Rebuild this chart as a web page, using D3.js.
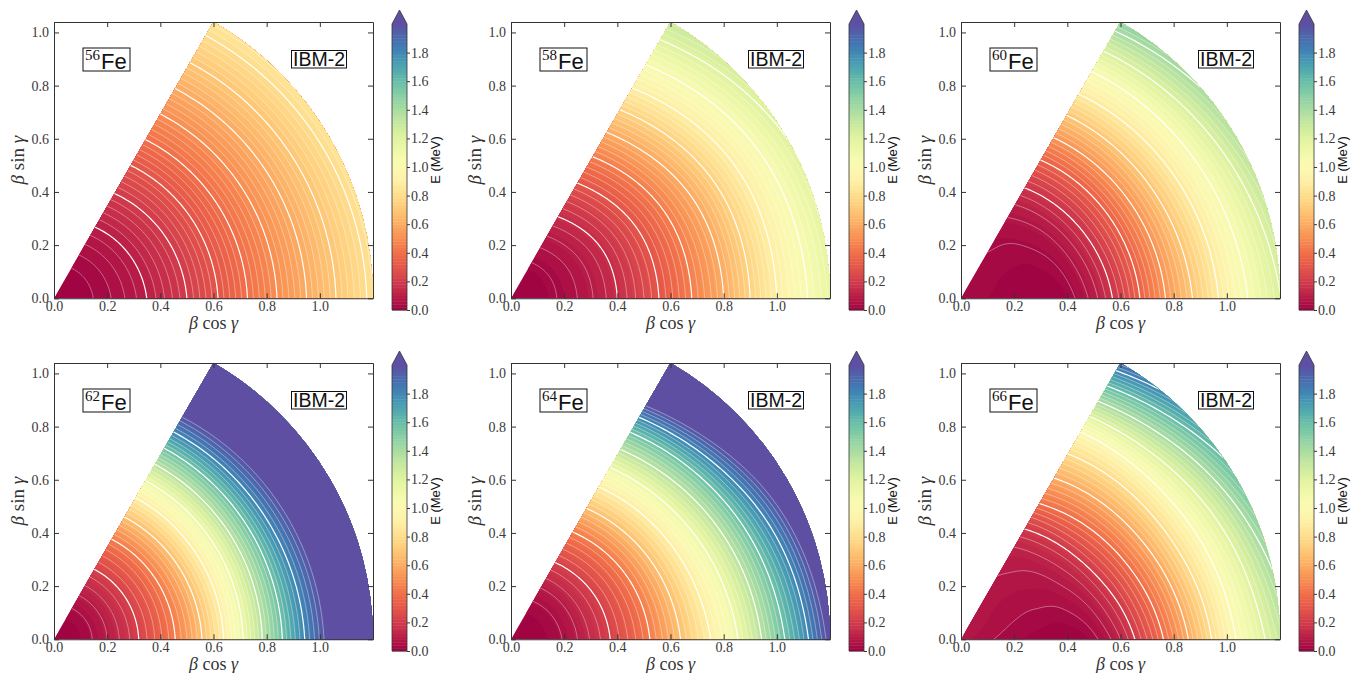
<!DOCTYPE html>
<html>
<head>
<meta charset="utf-8">
<script src="https://cdn.jsdelivr.net/npm/d3@7"></script>
<style>
  body { margin: 0; background: #fff; }
  svg { display: block; }
  .tick text { font-family: "Liberation Serif", serif; font-size: 14px; fill: #3a3a3a; }
</style>
</head>
<body>
<svg id="chart" width="1351" height="673"></svg>
<script>
// Deformation grid: β nodes and γ nodes (degrees) on which the surfaces are tabulated
const betaValues = [0, 0.1, 0.2, 0.3, 0.4, 0.5, 0.6, 0.7, 0.8, 0.9, 1.0, 1.1, 1.2];
const gammaValues = [0, 30, 60];

// IBM-2 potential energy surfaces E(β, γ) in MeV; rows are γ = 0°, 30°, 60°
const energyFe56 = [
  [0, 0.010, 0.035, 0.075, 0.130, 0.200, 0.285, 0.375, 0.465, 0.555, 0.645, 0.735, 0.820],
  [0, 0.011, 0.040, 0.085, 0.145, 0.217, 0.302, 0.392, 0.482, 0.572, 0.662, 0.750, 0.835],
  [0, 0.012, 0.045, 0.095, 0.160, 0.235, 0.320, 0.410, 0.500, 0.590, 0.680, 0.765, 0.850]
];
const energyFe58 = [
  [0, 0.010, 0.040, 0.085, 0.150, 0.240, 0.350, 0.475, 0.600, 0.750, 0.900, 1.030, 1.150],
  [0, 0.011, 0.043, 0.092, 0.160, 0.255, 0.370, 0.500, 0.630, 0.780, 0.930, 1.070, 1.200],
  [0, 0.012, 0.050, 0.110, 0.190, 0.300, 0.430, 0.570, 0.720, 0.880, 1.030, 1.170, 1.300]
];
const energyFe60 = [
  [0.030, 0.020, 0.008, 0.000, 0.020, 0.090, 0.220, 0.400, 0.580, 0.750, 0.930, 1.080, 1.220],
  [0.030, 0.025, 0.020, 0.025, 0.060, 0.150, 0.290, 0.470, 0.650, 0.830, 1.010, 1.180, 1.350],
  [0.030, 0.030, 0.035, 0.050, 0.100, 0.200, 0.350, 0.530, 0.710, 0.900, 1.080, 1.280, 1.480]
];
const energyFe62 = [
  [0, 0.020, 0.090, 0.200, 0.350, 0.540, 0.790, 1.090, 1.400, 1.690, 1.940, 2.200, 2.500],
  [0, 0.022, 0.095, 0.210, 0.365, 0.570, 0.830, 1.125, 1.440, 1.750, 2.010, 2.300, 2.600],
  [0, 0.025, 0.100, 0.220, 0.380, 0.600, 0.860, 1.160, 1.480, 1.800, 2.080, 2.400, 2.700]
];
const energyFe64 = [
  [0, 0.010, 0.050, 0.140, 0.260, 0.410, 0.600, 0.800, 1.000, 1.240, 1.500, 1.750, 2.020],
  [0, 0.012, 0.060, 0.160, 0.290, 0.460, 0.670, 0.900, 1.140, 1.400, 1.680, 1.950, 2.250],
  [0, 0.015, 0.070, 0.180, 0.330, 0.520, 0.750, 1.000, 1.280, 1.580, 1.930, 2.300, 2.650]
];
const energyFe66 = [
  [0.070, 0.045, 0.025, 0.010, 0.000, 0.030, 0.120, 0.280, 0.480, 0.700, 0.930, 1.120, 1.300],
  [0.070, 0.060, 0.050, 0.050, 0.070, 0.140, 0.280, 0.460, 0.660, 0.880, 1.100, 1.320, 1.550],
  [0.070, 0.070, 0.072, 0.085, 0.120, 0.230, 0.420, 0.600, 0.790, 1.000, 1.300, 1.600, 1.900]
];

const massNumbers = ["56", "58", "60", "62", "64", "66"];
const surfaces = [energyFe56, energyFe58, energyFe60, energyFe62, energyFe64, energyFe66];
const modelLabel = "IBM-2";

// Axis and colour-bar ticks
const xTicks = [0.0, 0.2, 0.4, 0.6, 0.8, 1.0];
const yTicks = [0.0, 0.2, 0.4, 0.6, 0.8, 1.0];
const colorTicks = [0.0, 0.2, 0.4, 0.6, 0.8, 1.0, 1.2, 1.4, 1.6, 1.8];
const energyMax = 2.0;      // top of the colour scale (extended beyond)
const fillStep = 0.02;      // filled-contour spacing in MeV

// ---------------------------------------------------------------------------
const svg = d3.select("#chart");
const color = t => d3.interpolateSpectral(Math.max(0, Math.min(1, t / energyMax)));
const overColor = d3.interpolateSpectral(1);
const fmt = d3.format(".1f");

// Catmull-Rom resampling through tabulated nodes
function cubic(xs, ys, xv) {
  const n = xs.length;
  let k = 0;
  while (k < n - 2 && xv > xs[k + 1]) k++;
  const t = (xv - xs[k]) / (xs[k + 1] - xs[k]);
  const p1 = ys[k], p2 = ys[k + 1];
  const p0 = k > 0 ? ys[k - 1] : 2 * p1 - p2;
  const p3 = k + 2 < n ? ys[k + 2] : 2 * p2 - p1;
  const t2 = t * t, t3 = t2 * t;
  return 0.5 * (2 * p1 + (-p0 + p2) * t + (2 * p0 - 5 * p1 + 4 * p2 - p3) * t2 + (-p0 + 3 * p1 - 3 * p2 + p3) * t3);
}

// Fine polar sampling grid (extends slightly past the wedge so the clip hides grid edges)
const db = 0.005, nb = 252;          // β from 0 to 1.255
const g0 = -3, dg = 1, ng = 67;      // γ from -3° to 63°

function sampleSurface(table) {
  const vals = new Float64Array(nb * ng);
  for (let j = 0; j < ng; j++) {
    const gm = Math.max(0, Math.min(60, g0 + j * dg));
    const col = betaValues.map((_, k) => cubic(gammaValues, table.map(r => r[k]), gm));
    for (let i = 0; i < nb; i++) {
      const b = Math.min(1.2, i * db);
      vals[j * nb + i] = cubic(betaValues, col, b);
    }
  }
  return vals;
}

const W = 319, H = W * Math.sin(Math.PI / 3);
const colLeft = [54, 511, 961];
const rowTop = [22, 363];

const contourGen = d3.contours().size([nb, ng]).smooth(true);
const fillLevels = d3.range(0, Math.round(energyMax / fillStep)).map(k => +(k * fillStep).toFixed(3));

surfaces.forEach((table, idx) => {
  const left = colLeft[idx % 3], top = rowTop[Math.floor(idx / 3)];
  const g = svg.append("g").attr("transform", `translate(${left},${top})`);

  const x = d3.scaleLinear([0, 1.2], [0, W]);
  const y = d3.scaleLinear([0, 1.2 * Math.sin(Math.PI / 3)], [H, 0]);

  const proj = d3.geoTransform({
    point(u, v) {
      const b = (u - 0.5) * db;
      const gm = (g0 + (v - 0.5) * dg) * Math.PI / 180;
      this.stream.point(x(b * Math.cos(gm)), y(b * Math.sin(gm)));
    }
  });
  const path = d3.geoPath(proj);

  // wedge 0° ≤ γ ≤ 60°, β ≤ 1.2
  const clipId = `wedge-${idx}`;
  g.append("clipPath").attr("id", clipId)
    .append("path")
    .attr("transform", `translate(${x(0)},${y(0)})`)
    .attr("d", d3.arc()({ innerRadius: 0, outerRadius: x(1.2) - x(0), startAngle: Math.PI / 6, endAngle: Math.PI / 2 }));

  const vals = sampleSurface(table);
  const surf = g.append("g").attr("clip-path", `url(#${clipId})`);

  // filled bands, stacked from the lowest level upward
  surf.append("path")
    .attr("d", path(contourGen.contour(vals, -10)))
    .attr("fill", color(fillStep / 2));
  fillLevels.slice(1).forEach(t => {
    surf.append("path")
      .attr("d", path(contourGen.contour(vals, t)))
      .attr("fill", color(t + fillStep / 2));
  });
  surf.append("path")
    .attr("d", path(contourGen.contour(vals, energyMax)))
    .attr("fill", overColor);

  // contour lines: spacing follows the energy range shown in the panel
  const peak = Math.min(energyMax, d3.max(table.flat()));
  const lineStep = Math.max(0.005, Math.round(peak / 45 / 0.005) * 0.005);
  const lineLevels = d3.range(1, Math.floor(peak / lineStep + 1e-6) + 1).map(k => +(k * lineStep).toFixed(4));
  lineLevels.forEach((t, k) => {
    const major = (k + 1) % 5 === 0;
    surf.append("path")
      .attr("d", path(contourGen.contour(vals, t)))
      .attr("fill", "none")
      .attr("stroke", "#fff")
      .attr("stroke-width", major ? 1.2 : 0.7)
      .attr("stroke-opacity", major ? 1 : 0.55);
  });

  // axes with inward ticks on all four sides
  const axisStyle = sel => {
    sel.selectAll("path.domain").attr("stroke", "#333").attr("stroke-width", 1);
    sel.selectAll(".tick line").attr("stroke", "#333");
  };
  g.append("g").attr("transform", `translate(0,${H})`)
    .call(d3.axisBottom(x).tickValues(xTicks).tickSize(-5).tickSizeOuter(0).tickPadding(3).tickFormat(fmt))
    .call(axisStyle);
  g.append("g")
    .call(d3.axisLeft(y).tickValues(yTicks).tickSize(-5).tickSizeOuter(0).tickPadding(5).tickFormat(fmt))
    .call(axisStyle);
  g.append("g")
    .call(d3.axisTop(x).tickValues(xTicks).tickSize(-5).tickSizeOuter(0).tickFormat(""))
    .call(axisStyle);
  g.append("g").attr("transform", `translate(${W},0)`)
    .call(d3.axisRight(y).tickValues(yTicks).tickSize(-5).tickSizeOuter(0).tickFormat(""))
    .call(axisStyle);
  g.selectAll(".tick text").attr("fill", "#3a3a3a");

  // axis titles
  const serif = "'Liberation Serif', serif";
  const xl = g.append("text").attr("x", W / 2).attr("y", H + 31)
    .attr("text-anchor", "middle").attr("font-family", serif).attr("font-size", 18).attr("fill", "#333");
  xl.append("tspan").attr("font-style", "italic").text("β");
  xl.append("tspan").text(" cos ");
  xl.append("tspan").attr("font-style", "italic").text("γ");
  const yl = g.append("text").attr("transform", `translate(-30,${H / 2}) rotate(-90)`)
    .attr("text-anchor", "middle").attr("font-family", serif).attr("font-size", 19).attr("fill", "#333");
  yl.append("tspan").attr("font-style", "italic").text("β");
  yl.append("tspan").text(" sin ");
  yl.append("tspan").attr("font-style", "italic").text("γ");

  // nucleus label box
  g.append("rect").attr("x", 29).attr("y", 26).attr("width", 47).attr("height", 23)
    .attr("fill", "#fff").attr("stroke", "#111").attr("stroke-width", 1);
  const nl = g.append("text").attr("x", 31).attr("y", 47).attr("fill", "#111");
  nl.append("tspan").attr("font-family", serif).attr("font-size", 15).attr("dy", -9).text(massNumbers[idx]);
  nl.append("tspan").attr("font-family", "'Liberation Sans', Arial, sans-serif").attr("font-size", 22)
    .attr("dy", 9).attr("dx", 1).text("Fe");

  // model label box
  g.append("rect").attr("x", 237.5).attr("y", 28.5).attr("width", 55).attr("height", 17.5)
    .attr("fill", "#fff").attr("stroke", "#111").attr("stroke-width", 1);
  g.append("text").attr("x", 265).attr("y", 44.2).attr("text-anchor", "middle")
    .attr("font-family", "'Liberation Sans', Arial, sans-serif").attr("font-size", 19.5).attr("fill", "#111")
    .text(modelLabel);

  // colour bar with extension triangle
  const cbL = 338, cbW = 15, cbR = cbL + cbW;
  const cbScale = d3.scaleLinear([0, energyMax], [288, 2]);
  const cb = g.append("g");
  cb.selectAll("rect").data(fillLevels).join("rect")
    .attr("x", cbL).attr("width", cbW)
    .attr("y", d => cbScale(d + fillStep))
    .attr("height", d => cbScale(d) - cbScale(d + fillStep) + 0.4)
    .attr("fill", d => color(d + fillStep / 2));
  cb.append("path")
    .attr("d", `M${cbL},${cbScale(energyMax)}L${cbR},${cbScale(energyMax)}L${cbL + cbW / 2},${cbScale(energyMax) - 14}Z`)
    .attr("fill", overColor);
  cb.append("path")
    .attr("d", `M${cbL},${cbScale(0)}V${cbScale(energyMax)}L${cbL + cbW / 2},${cbScale(energyMax) - 14}L${cbR},${cbScale(energyMax)}V${cbScale(0)}Z`)
    .attr("fill", "none").attr("stroke", "#333").attr("stroke-width", 0.8);
  const cbAxis = g.append("g").attr("transform", `translate(${cbR},0)`)
    .call(d3.axisRight(cbScale).tickValues(colorTicks).tickSize(3).tickSizeOuter(0).tickPadding(1).tickFormat(fmt));
  cbAxis.select("path.domain").remove();
  cbAxis.selectAll(".tick line").attr("stroke", "#333");
  cbAxis.selectAll(".tick text").attr("fill", "#3a3a3a");
  g.append("text")
    .attr("transform", `translate(${cbL + 48},${(cbScale(0) + cbScale(energyMax) - 14) / 2}) rotate(-90)`)
    .attr("text-anchor", "middle")
    .attr("font-family", "'Liberation Sans', Arial, sans-serif").attr("font-size", 13).attr("fill", "#111")
    .text("E (MeV)");
});
</script>
</body>
</html>
